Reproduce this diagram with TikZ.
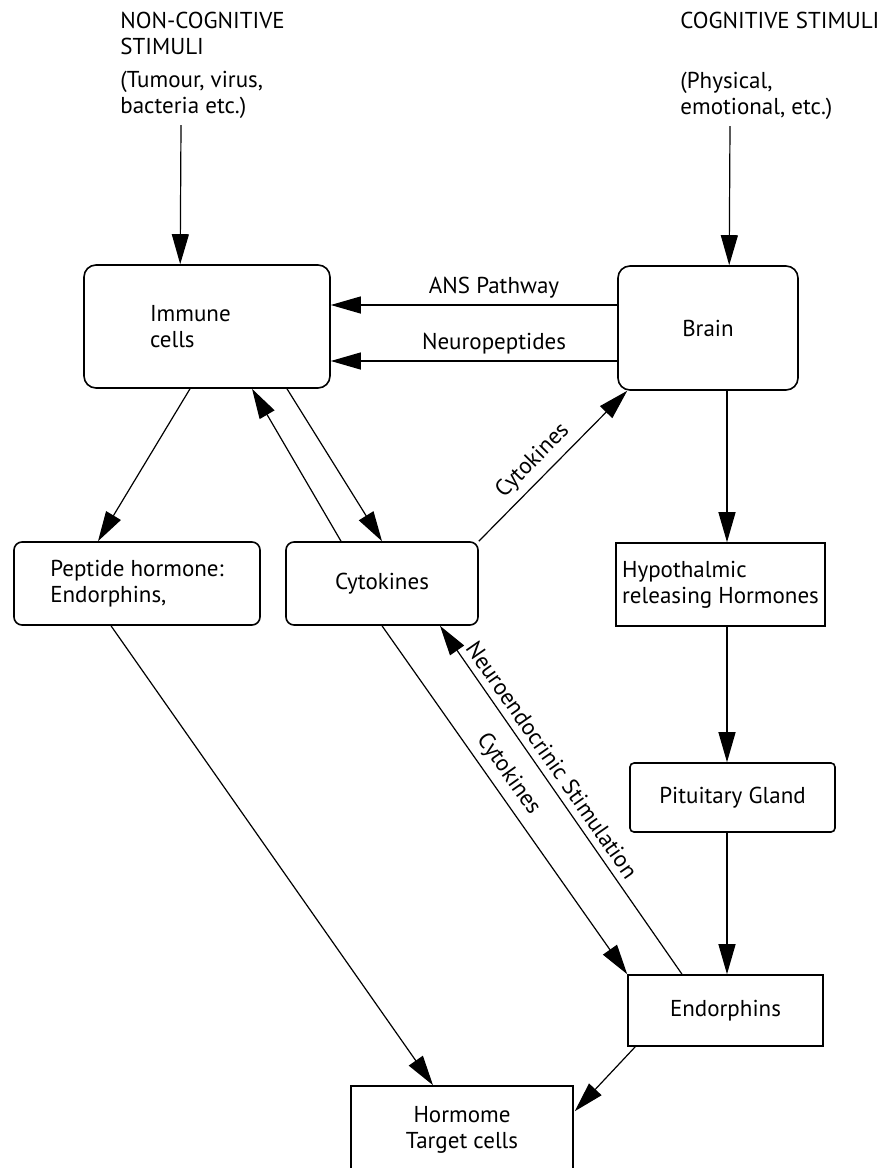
\documentclass[tikz,border=0pt]{standalone}
\usepackage{fontspec}
\setmainfont{PT Sans}
\usetikzlibrary{arrows.meta,calc}
\tikzstyle{arrow} = [->,>={Triangle[length=15pt,width=8.5pt]},line width=0.6pt]
\tikzstyle{box} = [draw,line width=0.8pt,inner sep=0pt,align=center,font=\fontsize{11.5}{13}\selectfont]
\tikzstyle{stim} = [inner sep=0pt,align=left,anchor=north west,font=\fontsize{11.5}{13}\selectfont]
\tikzstyle{lbl} = [font=\fontsize{11.5}{13}\selectfont,sloped,above]

\begin{document}
\begin{tikzpicture}[x=0.5pt,y=-0.5pt]
        \clip (0,0) rectangle (889,1168);
        \fill[white] (0,0) rectangle (889,1168);
        % stimuli
        \node[stim] (noncog) at (120,12) {NON-COGNITIVE\\STIMULI\\[3.5pt](Tumour, virus,\\bacteria etc.)};
        \node[stim] (cog) at (680,12) {COGNITIVE STIMULI\\[17pt](Physical,\\emotional, etc.)};

        % boxes
        \node[box, rounded corners=6pt, minimum width=123pt, minimum height=61.5pt, text width=57pt, align=left] (imm) at (207,326.5) {Immune\\cells};
        \node[box, rounded corners=6pt, minimum width=90pt, minimum height=62pt] (brain) at (708,328) {Brain};
        \node[box, rounded corners=4pt, minimum width=123pt, minimum height=41.5pt, align=left] (pep) at (137,583.5) {Peptide hormone:\\Endorphins,};
        \node[box, rounded corners=4pt, minimum width=96pt, minimum height=41.5pt] (cyt) at (382,583.5) {Cytokines};
        \node[box, minimum width=104.5pt, minimum height=41.5pt, align=left] (hyp) at (720.5,584.5) {Hypothalmic\\releasing Hormones};
        \node[box, rounded corners=2pt, minimum width=102.5pt, minimum height=34.5pt] (pit) at (732.5,797.5) {Pituitary Gland};
        \node[box, minimum width=97.5pt, minimum height=35.5pt] (endo) at (725.5,1010.5) {Endorphins};
        \node[box, minimum width=111pt, minimum height=44pt] (horm) at (462,1130) {Hormome\\Target cells};

        \draw[arrow] ($(noncog.south west)+(61,6)$) -- ($(imm.north west)+(97,0)$);
        \draw[arrow] ($(cog.south west)+(50,6)$) -- ($(brain.north west)+(112,0)$);
        \draw[arrow] ($(brain.west)+(0,-23)$) -- ($(imm.east)+(0,-21.5)$) node[lbl, pos=.43]{ANS Pathway};
        \draw[arrow] ($(brain.west)+(0,33)$) -- ($(imm.east)+(0,34.5)$) node[lbl, pos=.43]{Neuropeptides};
        \draw[arrow] ($(imm.south)+(-17,0)$) -- ($(pep.north)+(-39,0)$);
        \draw[arrow] ($(cyt.north)+(-41,0)$) -- ($(imm.south)+(45,0)$);
        \draw[arrow] ($(imm.south)+(80,0)$) -- (cyt.north);
        \draw[arrow] (cyt.north east) -- ($(brain.south west)+(10,0)$) node[lbl, pos=.45]{Cytokines};
        \draw[arrow] ($(brain.south)+(19,0)$) -- ($(hyp.north)+(6.5,0)$);
        \draw[arrow] ($(hyp.south)+(6.5,0)$) -- ($(pit.north)+(-5.5,0)$);
        \draw[arrow] ($(pit.south)+(-5.5,0)$) -- ($(endo.north)+(1.5,0)$);
        \draw[arrow] ($(pep.south)+(-26,0)$) -- ($(horm.north)+(-29,0)$);
        \draw[arrow] (cyt.south) -- (endo.north west) node[lbl, pos=.455]{Cytokines};
        \draw[arrow] ($(endo.north)+(-43.5,0)$) -- ($(cyt.south)+(58,0)$) node[lbl, pos=.59]{Neuroendocrinic Stimulation};
        \draw[arrow] ($(endo.south west)+(8,0)$) -- ($(horm.north east)+(1,26)$);

    \end{tikzpicture}
\end{document}
